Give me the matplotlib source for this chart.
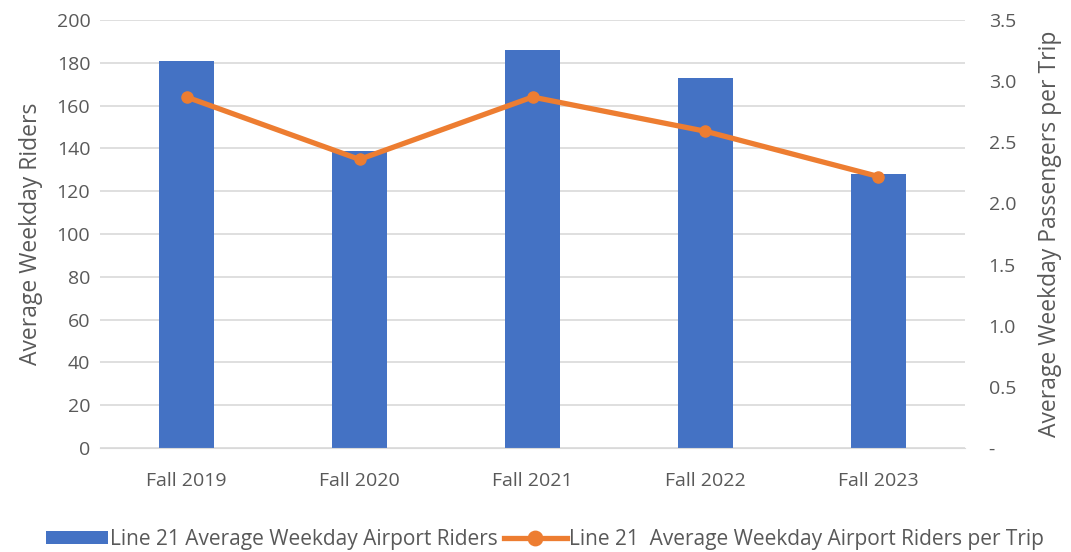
import matplotlib
matplotlib.use("Agg")
import matplotlib.pyplot as plt
from matplotlib.ticker import FixedLocator, FuncFormatter

categories = ["Fall 2019", "Fall 2020", "Fall 2021", "Fall 2022", "Fall 2023"]
riders = [181, 139, 186, 173, 128]
riders_per_trip = [2.87, 2.36, 2.87, 2.59, 2.22]
left_ticks = [0, 20, 40, 60, 80, 100, 120, 140, 160, 180, 200]
right_ticks = [0, 0.5, 1.0, 1.5, 2.0, 2.5, 3.0, 3.5]

plt.rcParams['font.family'] = ['Open Sans', 'DejaVu Sans']
txt = '#595959'
bar_c = '#4472C4'
line_c = '#ED7D31'
grid_c = '#D9D9D9'

fig = plt.figure(figsize=(10.71, 5.52), dpi=100)
ax = fig.add_axes([0.0934, 0.1884, 0.8076, 0.7754])
ax2 = ax.twinx()

x = list(range(len(categories)))
ax.bar(x, riders, width=0.32, color=bar_c, zorder=2,
       label="Line 21 Average Weekday Airport Riders")
ax.set_ylim(0, 200)
ax.set_xlim(-0.5, len(categories) - 0.5)
ax.yaxis.set_major_locator(FixedLocator(left_ticks))
ax.grid(axis='y', color=grid_c, linewidth=1.2, zorder=0)
ax.set_axisbelow(True)
ax.set_xticks(x)
ax.set_xticklabels(categories)

ax2.plot(x, riders_per_trip, color=line_c, linewidth=3.8, marker='o',
         markersize=8, zorder=3,
         label="Line 21  Average Weekday Airport Riders per Trip")
ax2.set_ylim(0, 3.5)
ax2.yaxis.set_major_locator(FixedLocator(right_ticks))
ax2.yaxis.set_major_formatter(FuncFormatter(lambda v, p: '-' if v == 0 else f"{v:.1f}"))

for a in (ax, ax2):
    for s in a.spines.values():
        s.set_visible(False)
    a.tick_params(length=0, labelsize=14, labelcolor=txt)
ax.tick_params(axis='y', pad=7)
ax.tick_params(axis='x', pad=17)
ax2.tick_params(axis='y', pad=17)
ax.spines['bottom'].set_visible(True)
ax.spines['bottom'].set_color(grid_c)

ax.set_ylabel("Average Weekday Riders", color=txt, fontsize=16.5, labelpad=10)
ax2.set_ylabel("Average Weekday Passengers per Trip", color=txt, fontsize=16.5, labelpad=16)

h1, l1 = ax.get_legend_handles_labels()
h2, l2 = ax2.get_legend_handles_labels()
fig.legend(h1 + h2, l1 + l2, loc='lower left', bbox_to_anchor=(0.025, -0.03),
           ncol=2, frameon=False, fontsize=15, labelcolor=txt,
           handlelength=3.0, handleheight=0.6, handletextpad=0.1, columnspacing=0.3,
           markerscale=1.3)

fig.savefig("out.png", dpi=100)
